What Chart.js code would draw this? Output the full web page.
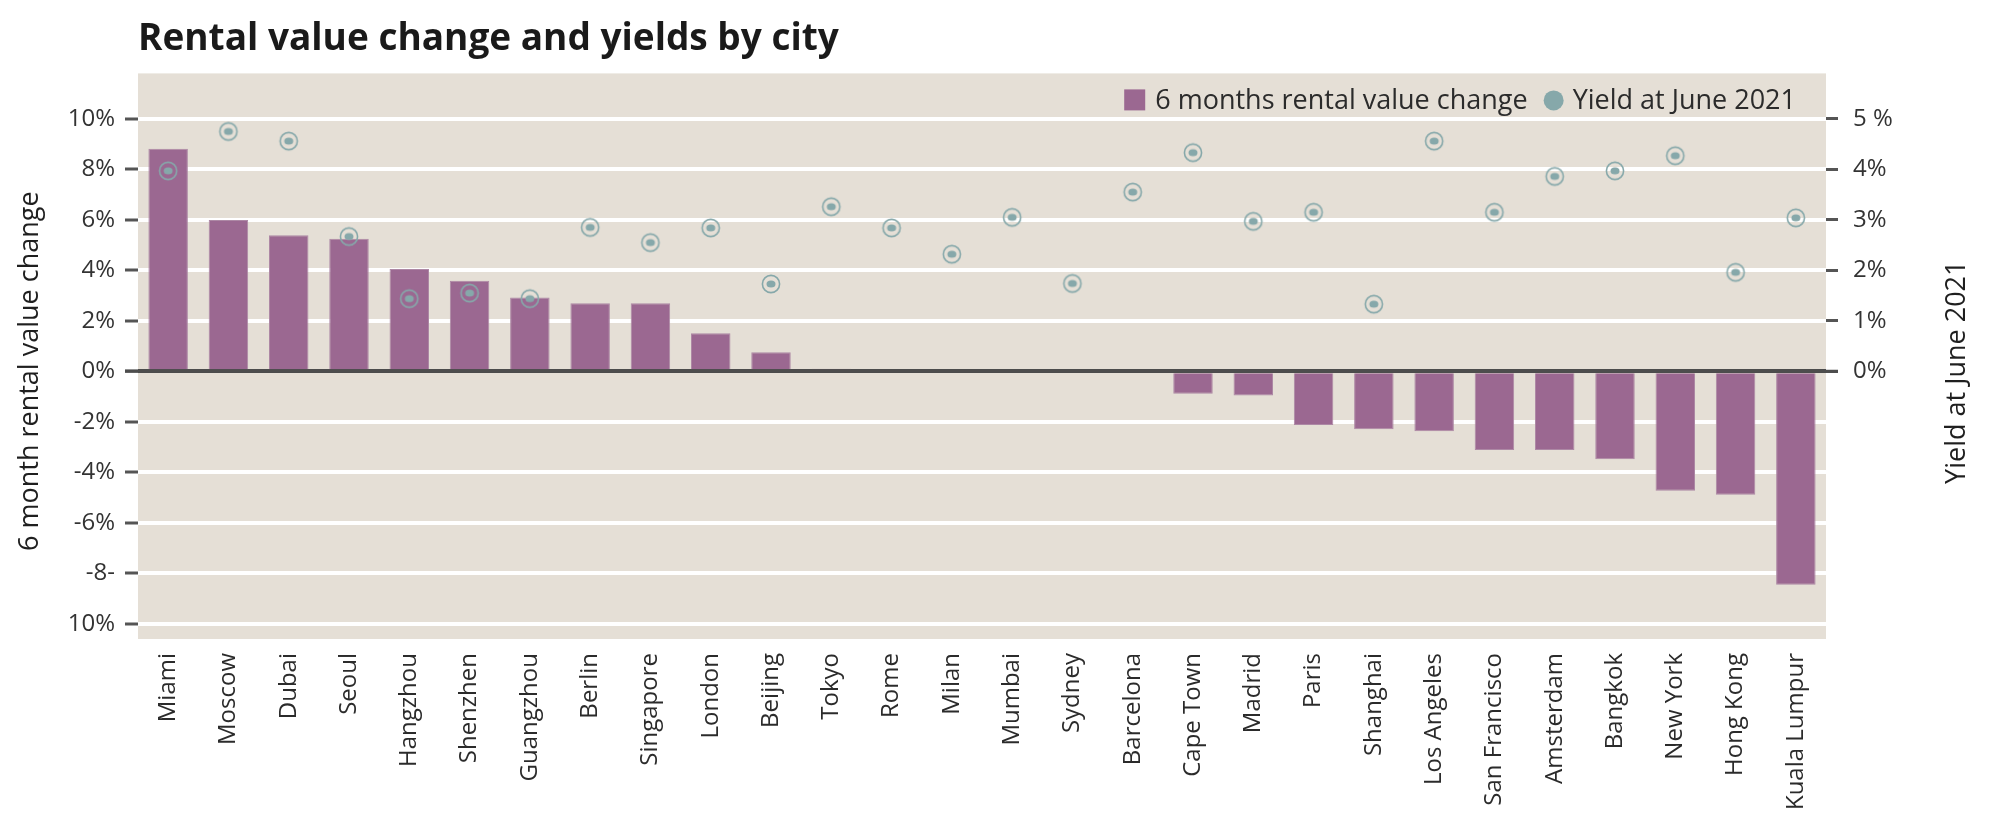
<!DOCTYPE html>
<html>
<head>
<meta charset="utf-8">
<script src="https://cdn.jsdelivr.net/npm/chart.js@4.4.1/dist/chart.umd.min.js"></script>
<style>
  html, body { margin: 0; padding: 0; background: #ffffff; }
  #wrap { width: 1994px; height: 834px; }
</style>
</head>
<body>
<div id="wrap"><canvas id="rentalChart" width="1994" height="834"></canvas></div>
<script>
// data
const cities = ['Miami', 'Moscow', 'Dubai', 'Seoul', 'Hangzhou', 'Shenzhen', 'Guangzhou', 'Berlin',
    'Singapore', 'London', 'Beijing', 'Tokyo', 'Rome', 'Milan', 'Mumbai', 'Sydney', 'Barcelona',
    'Cape Town', 'Madrid', 'Paris', 'Shanghai', 'Los Angeles', 'San Francisco', 'Amsterdam',
    'Bangkok', 'New York', 'Hong Kong', 'Kuala Lumpur'];
const rentalChange = [8.82, 5.99, 5.39, 5.25, 4.05, 3.59, 2.92, 2.70, 2.70, 1.51, 0.76, 0.10, 0, 0, 0, 0, 0,
    -0.89, -0.96, -2.12, -2.29, -2.37, -3.11, -3.11, -3.48, -4.73, -4.89, -8.45];
const yieldJune2021 = [3.97, 4.75, 4.56, 2.67, 1.44, 1.55, 1.44, 2.85, 2.55, 2.84, 1.73, 3.26, 2.84, 2.32,
    3.05, 1.74, 3.55, 4.33, 2.97, 3.15, 1.33, 4.56, 3.15, 3.86, 3.97, 4.27, 1.96, 3.04];
const leftTickValues = [10, 8, 6, 4, 2, 0, -2, -4, -6, -8, -10];
const leftTickLabels = ['10%', '8%', '6%', '4%', '2%', '0%', '-2%', '-4%', '-6%', '-8-', '10%'];
const rightTickValues = [5, 4, 3, 2, 1, 0];
const rightTickLabels = ['5 %', '4%', '3%', '2%', '1%', '0%'];

const BAR_COLOR = '#9b6891';
const YIELD_COLOR = '#86a8aa';
const PLOT_BG = '#e5dfd6';
const FONT = '"Open Sans", "DejaVu Sans", sans-serif';

function makeYieldMarker() {
    const c = document.createElement('canvas');
    c.width = 24; c.height = 24;
    const g = c.getContext('2d');
    g.strokeStyle = YIELD_COLOR;
    g.lineWidth = 1.6;
    g.beginPath(); g.arc(12, 12, 8.6, 0, Math.PI * 2); g.stroke();
    g.fillStyle = YIELD_COLOR;
    g.beginPath(); g.ellipse(12, 12, 4.5, 3.5, 0, 0, Math.PI * 2); g.fill();
    return c;
}

// plot background, zero line, legend inside the plot and the two axis titles
const chartDecor = {
    id: 'chartDecor',
    beforeDraw(chart) {
        const a = chart.chartArea, ctx = chart.ctx;
        ctx.save();
        ctx.fillStyle = PLOT_BG;
        ctx.fillRect(a.left, a.top, a.right - a.left, a.bottom - a.top);
        ctx.restore();
    },
    afterDatasetsDraw(chart) {
        const a = chart.chartArea, ctx = chart.ctx;
        const y0 = chart.scales.y.getPixelForValue(0);
        ctx.save();
        ctx.strokeStyle = '#4d4d4d';
        ctx.lineWidth = 3;
        ctx.beginPath();
        ctx.moveTo(a.left - 13, y0);
        ctx.lineTo(a.right + 12, y0);
        ctx.stroke();
        ctx.restore();
    },
    afterDraw(chart) {
        const a = chart.chartArea, ctx = chart.ctx;
        const ds = chart.data.datasets;
        ctx.save();
        ctx.font = '27px ' + FONT;
        ctx.fillStyle = '#2b2b2b';
        ctx.textBaseline = 'middle';
        const cy = a.top + 28;
        // yield item (right)
        let x = a.right - 30;
        const w2 = ctx.measureText(ds[1].label).width;
        ctx.fillText(ds[1].label, x - w2, cy);
        const cx = x - w2 - 19;
        ctx.fillStyle = YIELD_COLOR;
        ctx.beginPath(); ctx.arc(cx, cy - 1, 10, 0, Math.PI * 2); ctx.fill();
        // bar item
        const w1 = ctx.measureText(ds[0].label).width;
        const end1 = cx - 10 - 16;
        ctx.fillStyle = '#2b2b2b';
        ctx.fillText(ds[0].label, end1 - w1, cy);
        ctx.fillStyle = BAR_COLOR;
        ctx.fillRect(end1 - w1 - 31, cy - 12, 21, 21);

        // axis titles, both reading bottom to top
        ctx.font = '27px ' + FONT;
        ctx.fillStyle = '#1f1f1f';
        ctx.textAlign = 'center';
        const midY = (a.top + a.bottom) / 2 + 15;
        ctx.translate(30, midY);
        ctx.rotate(-Math.PI / 2);
        ctx.fillText('6 month rental value change', 0, 0);
        ctx.setTransform(1, 0, 0, 1, 0, 0);
        ctx.translate(chart.width - 37, midY + 1);
        ctx.rotate(-Math.PI / 2);
        ctx.fillText('Yield at June 2021', 0, 0);
        ctx.restore();
    }
};

const ctx = document.getElementById('rentalChart').getContext('2d');
new Chart(ctx, {
    data: {
        labels: cities,
        datasets: [
            {
                type: 'bar', label: '6 months rental value change', data: rentalChange,
                backgroundColor: BAR_COLOR, borderColor: '#ad88a5', borderWidth: 1,
                barPercentage: 0.655, categoryPercentage: 1, yAxisID: 'y', order: 2
            },
            {
                type: 'line', label: 'Yield at June 2021', data: yieldJune2021,
                showLine: false, pointStyle: makeYieldMarker(), pointRadius: 10, pointHoverRadius: 10,
                borderColor: YIELD_COLOR, backgroundColor: YIELD_COLOR, yAxisID: 'y2', order: 1
            }
        ]
    },
    options: {
        responsive: false, devicePixelRatio: 1, animation: false,
        layout: { padding: 0 },
        plugins: {
            legend: { display: false },
            tooltip: { enabled: true },
            title: {
                display: true, text: 'Rental value change and yields by city',
                align: 'start', fullSize: false, color: '#1a1a1a',
                font: { family: FONT, size: 37, weight: 'bold' },
                padding: { top: 17, bottom: 12 }
            }
        },
        scales: {
            x: {
                offset: true,
                grid: { display: false, drawTicks: false },
                border: { display: false },
                ticks: {
                    autoSkip: false, minRotation: 90, maxRotation: 90, padding: 14,
                    color: '#2b2b2b', font: { family: FONT, size: 24 }
                },
                afterFit: s => { s.height = 195; }
            },
            y: {
                position: 'left', min: -10.6, max: 11.8,
                afterBuildTicks: s => { s.ticks = leftTickValues.map(v => ({ value: v })); },
                border: { display: false },
                grid: {
                    color: c => (c.tick && c.tick.value === 0) ? '#4d4d4d' : '#ffffff',
                    lineWidth: 4, tickColor: '#555555', tickWidth: 3, tickLength: 13
                },
                ticks: {
                    padding: 10, color: '#333333', font: { family: FONT, size: 24 },
                    callback: v => leftTickLabels[leftTickValues.indexOf(v)]
                },
                afterFit: s => { s.width = 138; }
            },
            y2: {
                position: 'right', min: -5.3, max: 5.9,
                afterBuildTicks: s => { s.ticks = rightTickValues.map(v => ({ value: v })); },
                border: { display: false },
                grid: { drawOnChartArea: false, color: '#555555', tickColor: '#555555', tickWidth: 3, tickLength: 12 },
                ticks: {
                    padding: 15, color: '#333333', font: { family: FONT, size: 24 },
                    callback: v => rightTickLabels[rightTickValues.indexOf(v)]
                },
                afterFit: s => { s.width = 168; }
            }
        }
    },
    plugins: [chartDecor]
});
</script>
</body>
</html>
